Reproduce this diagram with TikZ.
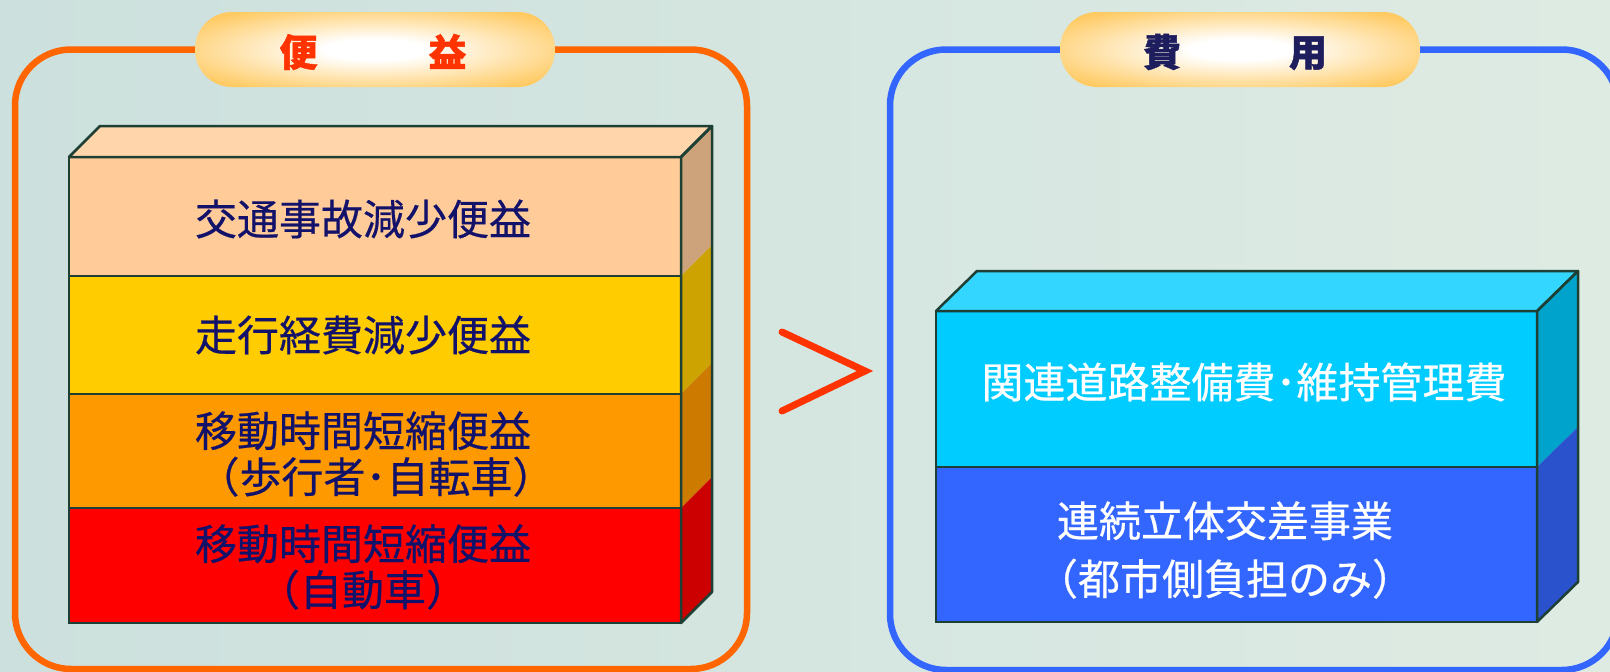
\documentclass[tikz,border=0pt]{standalone}
\usepackage{fontspec}
\newfontfamily\cjk[FakeBold=0.5]{Noto Sans CJK JP}
\newfontfamily\cjkh[BoldFeatures={FakeBold=1.2}]{Noto Sans CJK JP}
\usetikzlibrary{calc}
\definecolor{bgA}{HTML}{CCE0DD}
\definecolor{bgB}{HTML}{DEEBE3}
\definecolor{frO}{HTML}{FF6600}
\definecolor{frB}{HTML}{3366FF}
\definecolor{edgec}{HTML}{1E4034}
\definecolor{navy}{HTML}{12126A}
\definecolor{hdrnavy}{HTML}{1E1E5E}
\definecolor{pillc}{HTML}{FFCA62}
\definecolor{redt}{HTML}{FF3300}
\definecolor{LAt}{HTML}{FFD6AC}
\definecolor{LAf}{HTML}{FFCC99}
\definecolor{LAs}{HTML}{CCA37A}
\definecolor{LBf}{HTML}{FFCC00}
\definecolor{LBs}{HTML}{CCA300}
\definecolor{LCf}{HTML}{FF9900}
\definecolor{LCs}{HTML}{CC7A00}
\definecolor{LDf}{HTML}{FF0000}
\definecolor{LDs}{HTML}{CC0000}
\definecolor{RAt}{HTML}{33D6FF}
\definecolor{RAf}{HTML}{00CCFF}
\definecolor{RAs}{HTML}{00A3CC}
\definecolor{RBf}{HTML}{3366FF}
\definecolor{RBs}{HTML}{2952CC}
\pgfdeclareradialshading{pillshade}{\pgfpoint{0bp}{0bp}}{color(0bp)=(white); color(7bp)=(white); color(31bp)=(pillc); color(50bp)=(pillc)}
\tikzset{
  framebox/.style={line width=6.5pt, rounded corners=56pt},
  pill/.style={rectangle, rounded corners=37pt, minimum width=360pt, minimum height=75pt, inner sep=0pt, shade, shading=pillshade},
  hdr/.style={font=\cjkh\bfseries\fontsize{38}{40}\selectfont, inner sep=0pt},
  face/.style={draw=edgec, line width=2.5pt, inner sep=0pt, outer sep=0pt},
  edgeline/.style={draw=edgec, line width=2.5pt, line join=round},
  ltext/.style={font=\cjk\fontsize{42}{46}\selectfont, text=navy, align=center, inner sep=0pt},
  rtext/.style={font=\cjk\fontsize{42}{58}\selectfont, text=white, align=center, inner sep=0pt},
  gtsign/.style={draw=redt, line width=7pt, line cap=round, line join=miter}
}
\begin{document}
\begin{tikzpicture}[x=1pt,y=-1pt]
\path[use as bounding box] (0,0) rectangle (1610,672);
\clip (0,0) rectangle (1610,672);
\fill[left color=bgA, right color=bgB] (0,0) rectangle (1610,672);
% frames
\draw[framebox, draw=frO] (15,49.5) rectangle (747,669);
\draw[framebox, draw=frB] (890,49.5) rectangle (1618,670);
% header pills
\node[pill] (pl) at (375,49.5) {};
\node[hdr, text=redt] (hl) at (373,52) {便\hspace{111pt}益};
\node[pill] (pr) at (1240,49.5) {};
\node[hdr, text=hdrnavy] (hr) at (1235,52) {費\hspace{108pt}用};
% left stacked box
\node[face, fill=LAf, minimum width=612pt, minimum height=119pt] (l1) at (375,216.5) {};
\node[face, fill=LBf, minimum width=612pt, minimum height=118pt] (l2) at (375,335) {};
\node[face, fill=LCf, minimum width=612pt, minimum height=114pt] (l3) at (375,451) {};
\node[face, fill=LDf, minimum width=612pt, minimum height=115pt] (l4) at (375,565.5) {};
\fill[LAs] (l1.north east) -- ++(31,-31) -- ($(l1.south east)+(31,-31)$) -- (l1.south east) -- cycle;
\fill[LBs] (l2.north east) -- ++(31,-31) -- ($(l2.south east)+(31,-31)$) -- (l2.south east) -- cycle;
\fill[LCs] (l3.north east) -- ++(31,-31) -- ($(l3.south east)+(31,-31)$) -- (l3.south east) -- cycle;
\fill[LDs] (l4.north east) -- ++(31,-31) -- ($(l4.south east)+(31,-31)$) -- (l4.south east) -- cycle;
\filldraw[edgeline, fill=LAt] (l1.north west) -- ++(31,-31) -- ($(l1.north east)+(31,-31)$) -- (l1.north east) -- cycle;
\draw[edgeline] (l1.north east) -- ++(31,-31) -- ($(l4.south east)+(31,-31)$) -- (l4.south east) -- (l1.north east);
\node[ltext] (t1) at (363,219) {交通事故減少便益};
\node[ltext] (t2) at (363,335) {走行経費減少便益};
\node[ltext] (t3) at (363,454) {移動時間短縮便益\\\hspace*{26pt}（歩行者･自転車）};
\node[ltext] (t4) at (363,567) {移動時間短縮便益\\（自動車）};
% greater-than sign
\coordinate (ga) at (782,332);
\coordinate (gb) at (865,371);
\coordinate (gc) at (782,411);
\draw[gtsign] (ga) -- (gb) -- (gc);
% right stacked box
\node[face, fill=RAf, minimum width=601pt, minimum height=156pt] (r1) at (1236.5,389) {};
\node[face, fill=RBf, minimum width=601pt, minimum height=155pt] (r2) at (1236.5,544.5) {};
\fill[RAs] (r1.north east) -- ++(41,-40) -- ($(r1.south east)+(41,-40)$) -- (r1.south east) -- cycle;
\fill[RBs] (r2.north east) -- ++(41,-40) -- ($(r2.south east)+(41,-40)$) -- (r2.south east) -- cycle;
\filldraw[edgeline, fill=RAt] (r1.north west) -- ++(41,-40) -- ($(r1.north east)+(41,-40)$) -- (r1.north east) -- cycle;
\draw[edgeline] (r1.north east) -- ++(41,-40) -- ($(r2.south east)+(41,-40)$) -- (r2.south east) -- (r1.north east);
\node[rtext] (s1) at (1244,382) {関連道路整備費･維持管理費};
\node[rtext] (s2) at (1225,550) {連続立体交差事業\\（都市側負担のみ）};
\end{tikzpicture}
\end{document}
